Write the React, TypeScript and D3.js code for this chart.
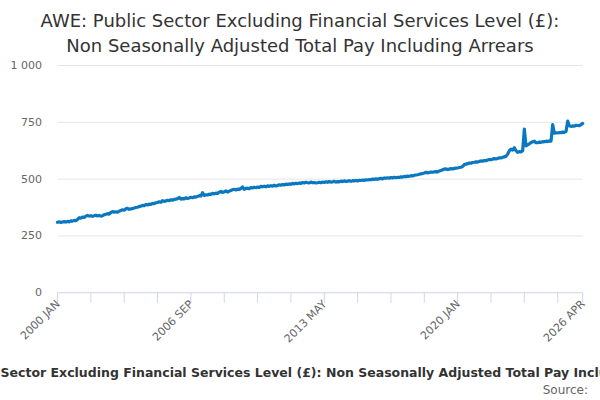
import { scaleLinear, scalePoint, line } from 'd3'

const monthNames = ['JAN', 'FEB', 'MAR', 'APR', 'MAY', 'JUN', 'JUL', 'AUG', 'SEP', 'OCT', 'NOV', 'DEC']

// average weekly earnings, £, one array per year (Jan..Dec)
const y2000 = [310, 312, 309, 311, 313, 311, 314, 312, 316, 315, 318, 317]
const y2001 = [322, 330, 328, 333, 331, 337, 340, 337, 339, 336, 339, 341]
const y2002 = [338, 340, 337, 339, 343, 345, 348, 346, 353, 357, 354, 356]
const y2003 = [355, 359, 362, 365, 363, 369, 371, 367, 369, 370, 373, 375]
const y2004 = [376, 379, 381, 384, 383, 388, 386, 390, 389, 393, 392, 396]
const y2005 = [397, 400, 398, 405, 402, 404, 407, 405, 409, 407, 411, 412]
const y2006 = [414, 419, 412, 414, 413, 418, 415, 417, 420, 418, 422, 421]
const y2007 = [424, 427, 426, 440, 428, 431, 430, 434, 433, 437, 435, 438]
const y2008 = [437, 442, 446, 441, 444, 448, 443, 447, 450, 453, 455, 452]
const y2009 = [456, 454, 459, 466, 455, 459, 460, 458, 463, 461, 464, 462]
const y2010 = [465, 463, 468, 466, 469, 466, 470, 468, 471, 469, 473, 470]
const y2011 = [472, 475, 473, 476, 474, 478, 476, 479, 477, 481, 479, 482]
const y2012 = [480, 483, 481, 485, 483, 486, 484, 483, 487, 484, 485, 483]
const y2013 = [484, 486, 484, 487, 485, 488, 486, 489, 487, 488, 490, 487]
const y2014 = [489, 488, 491, 489, 492, 490, 491, 493, 490, 493, 492, 494]
const y2015 = [492, 495, 494, 496, 494, 497, 496, 498, 497, 500, 499, 501]
const y2016 = [499, 502, 503, 501, 505, 504, 506, 504, 507, 505, 508, 506]
const y2017 = [508, 507, 510, 509, 512, 511, 513, 512, 515, 514, 517, 518]
const y2018 = [519, 521, 523, 525, 527, 530, 527, 529, 531, 530, 532, 533]
const y2019 = [532, 536, 538, 541, 544, 545, 542, 544, 546, 545, 547, 548]
const y2020 = [549, 551, 552, 556, 564, 566, 568, 571, 570, 573, 574, 576]
const y2021 = [575, 578, 580, 579, 582, 581, 584, 586, 585, 588, 590, 589]
const y2022 = [591, 594, 593, 596, 598, 600, 610, 625, 632, 628, 638, 625]
const y2023 = [618, 621, 620, 625, 720, 646, 651, 655, 661, 664, 667, 660]
const y2024 = [660, 663, 662, 665, 664, 667, 665, 668, 667, 740, 702, 704]
const y2025 = [703, 705, 704, 707, 706, 709, 755, 735, 732, 734, 733, 737]
const y2026 = [736, 735, 740, 745]

const yearly: [number, number[]][] = [
	[2000, y2000], [2001, y2001], [2002, y2002], [2003, y2003], [2004, y2004], [2005, y2005],
	[2006, y2006], [2007, y2007], [2008, y2008], [2009, y2009], [2010, y2010], [2011, y2011],
	[2012, y2012], [2013, y2013], [2014, y2014], [2015, y2015], [2016, y2016], [2017, y2017],
	[2018, y2018], [2019, y2019], [2020, y2020], [2021, y2021], [2022, y2022], [2023, y2023],
	[2024, y2024], [2025, y2025], [2026, y2026],
]

const yTicks = [0, 250, 500, 750, 1000]

const titleLines = [
	'AWE: Public Sector Excluding Financial Services Level (£):',
	'Non Seasonally Adjusted Total Pay Including Arrears',
]
const caption =
	'AWE: Public Sector Excluding Financial Services Level (£): Non Seasonally Adjusted Total Pay Including Arrears'

const font = '"DejaVu Sans", sans-serif'

export default function App() {
	const points = yearly.flatMap(([year, values]) =>
		values.map((value, i) => ({ label: `${year} ${monthNames[i]}`, value })),
	)
	const labels = points.map((p) => p.label)
	const last = labels[labels.length - 1]

	const margin = { left: 57.5, right: 582.7, top: 65.5, bottom: 292.7 }
	const x = scalePoint<string>().domain(labels).range([margin.left, margin.right])
	const y = scaleLinear().domain([0, 1000]).range([margin.bottom, margin.top])

	// tick mark every 20 months, a label every 80, plus the last month
	const tickMarks = labels.filter((_, i) => i % 20 === 0).concat(last)
	const labelTicks = labels.filter((_, i) => i % 80 === 0).concat(last)

	const path = line<{ label: string; value: number }>()
		.x((d) => x(d.label) ?? 0)
		.y((d) => y(d.value))(points)

	return (
		<div style={{ position: 'fixed', left: 0, top: 0 }}>
			<svg width={600} height={400} style={{ display: 'block', fontFamily: font }}>
				<rect width={600} height={400} fill="#fff" />
				{titleLines.map((t, i) => (
					<text key={t} x={300} y={27 + i * 24.5} textAnchor="middle" fontSize={18} fill="#333">
						{t}
					</text>
				))}

				{yTicks.map((tick) => (
					<g key={tick}>
						{tick > 0 && (
							<line x1={margin.left} x2={margin.right} y1={y(tick)} y2={y(tick)} stroke="#e6e6e6" />
						)}
						<text x={42} y={y(tick)} dy="0.32em" textAnchor="end" fontSize={11} fill="#666">
							{tick === 1000 ? '1 000' : tick}
						</text>
					</g>
				))}

				<line x1={margin.left} x2={margin.right} y1={margin.bottom} y2={margin.bottom} stroke="#ccd6eb" />
				{tickMarks.map((l) => (
					<line key={l} x1={x(l)} x2={x(l)} y1={margin.bottom} y2={margin.bottom + 10} stroke="#ccd6eb" />
				))}
				{labelTicks.map((l) => (
					<text
						key={l}
						transform={`translate(${(x(l) ?? 0) + 3}, ${margin.bottom + 12}) rotate(-45)`}
						textAnchor="end"
						fontSize={11}
						fill="#666"
					>
						{l}
					</text>
				))}

				<path d={path ?? ''} fill="none" stroke="#0a78c0" strokeWidth={3.2} strokeLinejoin="round" strokeLinecap="round" />

				<text x={304} y={377} textAnchor="middle" fontSize={12.5} fontWeight="bold" fill="#333">
					{caption}
				</text>
				<text x={588} y={394} textAnchor="end" fontSize={12} fill="#666">
					Source:
				</text>
			</svg>
		</div>
	)
}
